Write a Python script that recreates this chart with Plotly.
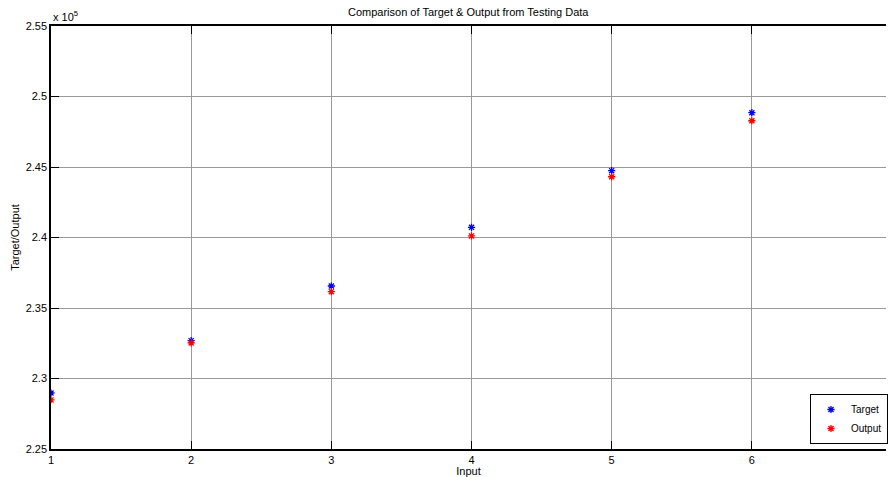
import plotly.graph_objects as go

inputs = [1, 2, 3, 4, 5, 6]
target = [228970, 232680, 236560, 240720, 244740, 248850]
output = [228480, 232520, 236160, 240110, 244310, 248280]

y_tickvals = [225000, 230000, 235000, 240000, 245000, 250000, 255000]
y_ticktext = ["2.25", "2.3", "2.35", "2.4", "2.45", "2.5", "2.55"]
x_tickvals = [1, 2, 3, 4, 5, 6]

FONT = "Liberation Sans, Arial, sans-serif"

fig = go.Figure()
fig.add_trace(go.Scatter(
    x=inputs, y=target, mode="markers", name="Target",
    marker=dict(symbol="asterisk-open", size=6, color="blue",
                line=dict(color="blue", width=1.3)),
))
fig.add_trace(go.Scatter(
    x=inputs, y=output, mode="markers", name="Output",
    marker=dict(symbol="asterisk-open", size=6, color="red",
                line=dict(color="red", width=1.3)),
))

fig.update_layout(
    width=888, height=477,
    margin=dict(l=51, r=0, t=26, b=28),
    paper_bgcolor="white", plot_bgcolor="white",
    font=dict(family=FONT, size=11, color="black"),
    showlegend=True,
    legend=dict(
        x=(812 - 51) / 837, y=(449 - 444) / 423,
        xanchor="left", yanchor="bottom",
        bgcolor="white", bordercolor="black", borderwidth=1,
        font=dict(size=10), itemwidth=30, tracegroupgap=0,
    ),
    annotations=[
        dict(text="Comparison of Target & Output from Testing Data",
             xref="paper", yref="paper", x=0.5, y=1, yshift=6,
             xanchor="center", yanchor="bottom", showarrow=False,
             font=dict(size=11)),
        dict(text="x 10<sup>5</sup>", xref="paper", yref="paper",
             x=0, y=1, yshift=1, xanchor="left", yanchor="bottom",
             showarrow=False, font=dict(size=11)),
    ],
)

fig.update_xaxes(
    range=[1, 6.957], tickvals=x_tickvals,
    title=dict(text="Input", standoff=2, font=dict(size=11)),
    showgrid=True, gridcolor="#999999", gridwidth=1,
    showline=True, linecolor="black", linewidth=1.5, mirror="allticks",
    ticks="inside", ticklen=8, tickcolor="black", tickwidth=1,
    zeroline=False,
)
fig.update_yaxes(
    range=[225000, 255000], tickvals=y_tickvals, ticktext=y_ticktext,
    title=dict(text="Target/Output", standoff=4, font=dict(size=11)),
    showgrid=True, gridcolor="#999999", gridwidth=1,
    showline=True, linecolor="black", linewidth=1.5,
    ticks="inside", ticklen=8, tickcolor="black", tickwidth=1,
    zeroline=False,
)

fig.write_html("out.html")
